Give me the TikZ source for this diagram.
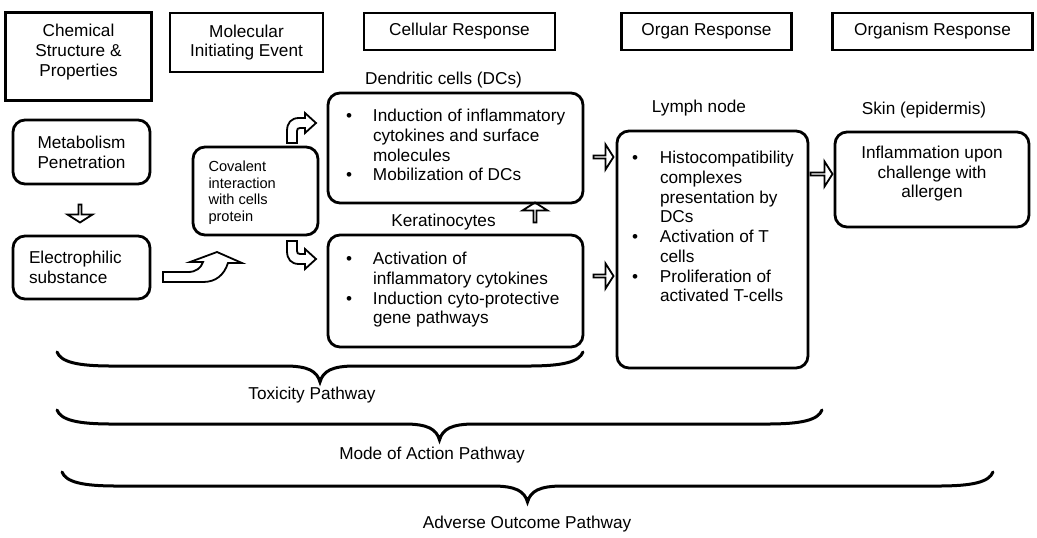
\documentclass[tikz,border=0pt]{standalone}
\usepackage{fontspec}
\setmainfont{Liberation Sans}
\usetikzlibrary{shapes.arrows, positioning, calc}

\begin{document}
\begin{tikzpicture}[x=0.5pt, y=-0.5pt,
    every node/.style={font=\fontsize{8.6}{9.85}\selectfont},
    hbox/.style={draw, line width=1.4pt, align=center, inner sep=0pt},
    rbox/.style={draw, line width=1.4pt, rounded corners=6pt, align=center, inner sep=0pt},
    lbl/.style={inner sep=0pt, align=center},
    hollow/.style={single arrow, draw, line width=0.9pt, inner sep=0pt,
        minimum height=10pt, minimum width=12.5pt, single arrow head extend=3.25pt, single arrow tip angle=115},
    bent/.style={draw, line width=0.9pt, fill=white},
    brace/.style={line width=1.5pt, line cap=round}
]
    \useasboundingbox (0,0) rectangle (1037,537);

    % Level headers
    \node[hbox, minimum width=73pt, minimum height=44pt] (chem) at (78.5,56.5) {};
    \node[lbl, anchor=north, yshift=-6.5pt] (chemtxt) at (chem.north) {Chemical\\Structure \&\\Properties};
    \node[hbox, minimum width=76.5pt, minimum height=29.5pt] (mie) at (246.5,42.5) {Molecular\\Initiating Event};
    \node[hbox, minimum width=95.5pt, minimum height=18.5pt] (cellr) at (459.5,31.5) {Cellular Response};
    \node[hbox, minimum width=85pt, minimum height=18.5pt] (organr) at (706.5,31.5) {Organ Response};
    \node[hbox, minimum width=100pt, minimum height=18.5pt] (orgsr) at (932.5,31.5) {Organism Response};

    % Chemical side
    \node[rbox, minimum width=68.5pt, minimum height=32pt] (metab) at (81.5,152) {Metabolism\\Penetration};
    \node[rbox, minimum height=31.5pt, align=left, text width=52.5pt, inner xsep=8pt] (elec) at (81.5,267.5) {Electrophilic\\substance};
    \node[rbox, minimum width=62.5pt, minimum height=44pt] (cov) at (255.5,191) {};
    \node[lbl, anchor=north west, align=left, xshift=8.25pt, yshift=-7.5pt, font=\fontsize{7.3}{8.35}\selectfont] (covtxt) at (cov.north west) {Covalent\\interaction\\with cells\\protein};

    % Cellular, organ and organism boxes
    \node[rbox, minimum width=127.5pt, minimum height=55pt] (dc) at (455.5,148) {};
    \node[rbox, minimum width=127.5pt, minimum height=56pt] (ker) at (455.5,291) {};
    \node[rbox, minimum width=95.5pt, minimum height=118.5pt] (lymph) at (712.5,249.5) {};
    \node[rbox, minimum width=97pt, minimum height=47.5pt] (skin) at (932,179.5) {};

    \node[lbl, anchor=north west, xshift=9.5pt, yshift=-8pt] (dctxt) at (dc.north west) {\begin{tabular}{@{}p{13.5pt}@{}l@{}}
        \textbullet & Induction of inflammatory\\ & cytokines and surface\\ & molecules\\
        \textbullet & Mobilization of DCs\end{tabular}};
    \node[lbl, anchor=north west, xshift=9.5pt, yshift=-8.5pt] (kertxt) at (ker.north west) {\begin{tabular}{@{}p{13.5pt}@{}l@{}}
        \textbullet & Activation of\\ & inflammatory cytokines\\
        \textbullet & Induction cyto-protective\\ & gene pathways\end{tabular}};
    \node[lbl, anchor=north west, xshift=8pt, yshift=-10pt] (lymtxt) at (lymph.north west) {\begin{tabular}{@{}p{14pt}@{}l@{}}
        \textbullet & Histocompatibility\\ & complexes\\ & presentation by\\ & DCs\\
        \textbullet & Activation of T\\ & cells\\
        \textbullet & Proliferation of\\ & activated T-cells\end{tabular}};
    \node[lbl, anchor=north, yshift=-7.5pt] (skintxt) at (skin.north) {Inflammation upon\\challenge with\\allergen};

    % Box titles
    \node[lbl] (dclab) at (443.5,80) {Dendritic cells (DCs)};
    \node[lbl] (kerlab) at (443.5,222) {Keratinocytes};
    \node[lbl] (lymlab) at (699,108) {Lymph node};
    \node[lbl] (skinlab) at (924,110) {Skin (epidermis)};

    % Block arrows
    \node[hollow, shape border rotate=270, minimum height=9pt] (a1) at (80,213) {};
    \node[hollow] (a2) at (603,157) {};
    \node[hollow] (a3) at (603,276) {};
    \node[hollow, shape border rotate=90] (a4) at (535,213) {};
    \node[hollow, minimum height=11pt] (a5) at (821,174) {};

    % Bent arrows
    \draw[bent] (287,143) -- (287,131) .. controls (287,123) and (291,118) .. (299,118) -- (305,118) -- (305,113) -- (316,123) -- (305,133) -- (305,128) -- (300,128) .. controls (298,128) and (297,129) .. (297,131) -- (297,143) -- cycle;
    \draw[bent] (287,241) -- (287,251) .. controls (287,259) and (291,264) .. (299,264) -- (305,264) -- (305,269) -- (316,259) -- (305,249) -- (305,254) -- (300,254) .. controls (298,254) and (297,253) .. (297,251) -- (297,241) -- cycle;
    \draw[bent] (163,272) -- (188,272) .. controls (196,272) and (201,268) .. (203,262) -- (190,262) -- (217,252) -- (242,263) -- (228,263) .. controls (224,275) and (216,282) .. (203,282) -- (163,282) -- cycle;

    % Pathway braces
    \foreach \xa/\xb/\yt/\lx/\ly/\nm/\txt in {57/583/352/312/395/tox/Toxicity Pathway,
        57/822/410/432/455/moa/Mode of Action Pathway,
        62/993/472/527/524/aop/Adverse Outcome Pathway}{
        \pgfmathsetmacro{\xm}{(\xa+\xb)/2}
        \draw[brace] (\xa,\yt) .. controls (\xa+4,\yt+10) and (\xa+20,\yt+14) .. (\xa+55,\yt+14) -- (\xm-35,\yt+14) .. controls (\xm-12,\yt+14) and (\xm-3,\yt+19) .. (\xm,\yt+30) .. controls (\xm+3,\yt+19) and (\xm+12,\yt+14) .. (\xm+35,\yt+14) -- (\xb-55,\yt+14) .. controls (\xb-20,\yt+14) and (\xb-4,\yt+10) .. (\xb,\yt);
        \node[lbl] (\nm) at (\lx,\ly) {\txt};
    }
\end{tikzpicture}
\end{document}
